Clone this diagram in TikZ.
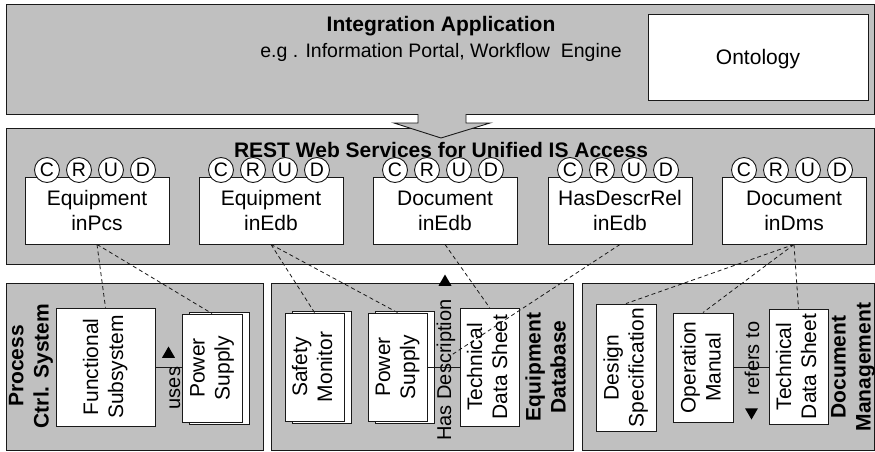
\documentclass[tikz,border=0pt]{standalone}
\usepackage{fontspec}
\setmainfont{Liberation Sans}
\usetikzlibrary{shapes.geometric}

\definecolor{panelgray}{RGB}{192,192,192}
\definecolor{inkline}{RGB}{25,25,25}

% text sizes
\newcommand{\bodyfont}{\fontsize{21}{25}\selectfont}
\newcommand{\subfont}{\fontsize{19.5}{23}\selectfont}
\newcommand{\crudfont}{\fontsize{19.5}{19.5}\selectfont}
\newcommand{\relfont}{\fontsize{20}{24}\selectfont}
% vertical (bottom-to-top) multi-line text
\newcommand{\vtext}[1]{\rotatebox{90}{\begin{tabular}{@{}c@{}}#1\end{tabular}}}

\tikzset{
  every node/.style={inner sep=0pt, font=\bodyfont},
  panel/.style={draw=inkline, fill=panelgray},
  svcbox/.style={draw=inkline, fill=white, minimum width=144, minimum height=67, align=center},
  crud/.style={circle, draw=inkline, fill=white, minimum size=25, font=\crudfont},
  entity/.style={draw=inkline, fill=white},
  dashline/.style={draw=inkline, line width=0.8pt, dash pattern=on 4pt off 3pt},
  relline/.style={draw=inkline, line width=0.8pt},
  reltext/.style={rotate=90, anchor=base, font=\relfont},
  arrowtri/.style={regular polygon, regular polygon sides=3, fill=black, minimum size=15},
}

\begin{document}
\begin{tikzpicture}[x=1pt, y=-1pt, line width=0.9pt]
\useasboundingbox (0,0) rectangle (875,452);

% ---- layers ----
\node[panel, minimum width=868, minimum height=110] (app) at (440,59) {};
\node[panel, minimum width=868, minimum height=136] (rest) at (440,196) {};
\node[panel, minimum width=257, minimum height=167] (pcs) at (134.5,366.5) {};
\node[panel, minimum width=302, minimum height=167] (edb) at (422,366.5) {};
\node[panel, minimum width=292, minimum height=167] (dms) at (728,366.5) {};

% block arrow from the application layer down to the service layer
\fill[panelgray] (418,113) -- (418,123) -- (394,123) -- (441,138) -- (490,123) -- (466,123) -- (466,113) -- cycle;
\draw[inkline] (418,114) -- (418,123) -- (394,123) -- (441,138) -- (490,123) -- (466,123) -- (466,114);

% ---- integration application ----
\node[anchor=base, font=\bodyfont\bfseries] (apptitle) at (441,32) {Integration Application};
\node[anchor=base, font=\subfont] (appsub) at (441,58) {e.g . Information Portal, Workflow~~Engine};
\node[entity, minimum width=220, minimum height=86, text depth=0pt] (onto) at (758,57) {Ontology};

% ---- REST services ----
\node[anchor=base, font=\bodyfont\bfseries] (resttitle) at (441,157) {REST Web Services for Unified IS Access};

\node[svcbox] (s1) at (97,210.5)  {Equipment\\inPcs};
\node[svcbox] (s2) at (271,210.5) {Equipment\\inEdb};
\node[svcbox] (s3) at (445,210.5) {Document\\inEdb};
\node[svcbox] (s4) at (620,210.5) {HasDescrRel\\inEdb};
\node[svcbox] (s5) at (794,210.5) {Document\\inDms};

\foreach \x [count=\b] in {25,199,373,548,722} {
  \foreach \l [count=\i] in {C,R,U,D} {
    \node[crud] (s\b\l) at (\x+22+32*\i-32, 170) {\l};
  }
}

% ---- process control system ----
\node[anchor=center] (pcslabel) at (31,366) {\bfseries\vtext{Process\\Ctrl. System}};
\node[entity, minimum width=99, minimum height=118] (fs) at (105.5,367) {\vtext{Functional\\Subsystem}};
\node[entity, minimum width=60, minimum height=112] (ps1back) at (219,368) {};
\node[entity, minimum width=60, minimum height=108] (ps1) at (212,368) {\vtext{Power\\Supply}};
\draw[relline] (fs.east) -- (fs.east -| ps1.west);
\node[reltext] (uses) at (180,388) {uses};
\node[arrowtri] (usesarrow) at (168.5,354) {};

% ---- equipment database ----
\node[entity, minimum width=59, minimum height=112] (smback) at (321.5,367) {};
\node[entity, minimum width=59, minimum height=108] (sm) at (314.5,367) {\vtext{Safety\\Monitor}};
\node[entity, minimum width=59, minimum height=112] (ps2back) at (404.5,367) {};
\node[entity, minimum width=59, minimum height=108] (ps2) at (397.5,367) {\vtext{Power\\Supply}};
\node[entity, minimum width=59, minimum height=118] (tds1) at (489.5,367) {\vtext{Technical\\Data Sheet}};
\draw[relline] (ps2.east) -- (tds1.west);
\node[reltext] (hasdesc) at (451,370) {Has Description};
\node[arrowtri] (hasdescarrow) at (445,282) {};
\coordinate (hdmid) at (450,356);
\node[anchor=center] (edblabel) at (548,367) {\bfseries\vtext{Equipment\\Database}};

% ---- document management ----
\node[entity, minimum width=60, minimum height=127] (ds) at (626,367.5) {\vtext{Design\\Specification}};
\node[entity, minimum width=60, minimum height=109] (om) at (703,367.5) {\vtext{Operation\\Manual}};
\node[entity, minimum width=59, minimum height=115] (tds2) at (798.5,366.5) {\vtext{Technical\\Data Sheet}};
\draw[relline] (om.east) -- (om.east -| tds2.west);
\node[reltext] (refers) at (759,358.5) {refers to};
\node[arrowtri, shape border rotate=180] (refersarrow) at (751.5,412) {};
\node[anchor=center] (dmslabel) at (853,367) {\bfseries\vtext{Document\\Management}};

% ---- mappings from services to source entities ----
\draw[dashline] (s1.south) -- (fs.north);
\draw[dashline] (s1.south) -- (ps1.north);
\draw[dashline] (s2.south) -- (sm.north);
\draw[dashline] (s2.south) -- (ps2.north);
\draw[dashline] (s3.south) -- (tds1.north);
\draw[dashline] (s4.south) -- (hdmid);
\draw[dashline] (s5.south) -- (ds.north);
\draw[dashline] (s5.south) -- (om.north);
\draw[dashline] (s5.south) -- (tds2.north);
\end{tikzpicture}
\end{document}
